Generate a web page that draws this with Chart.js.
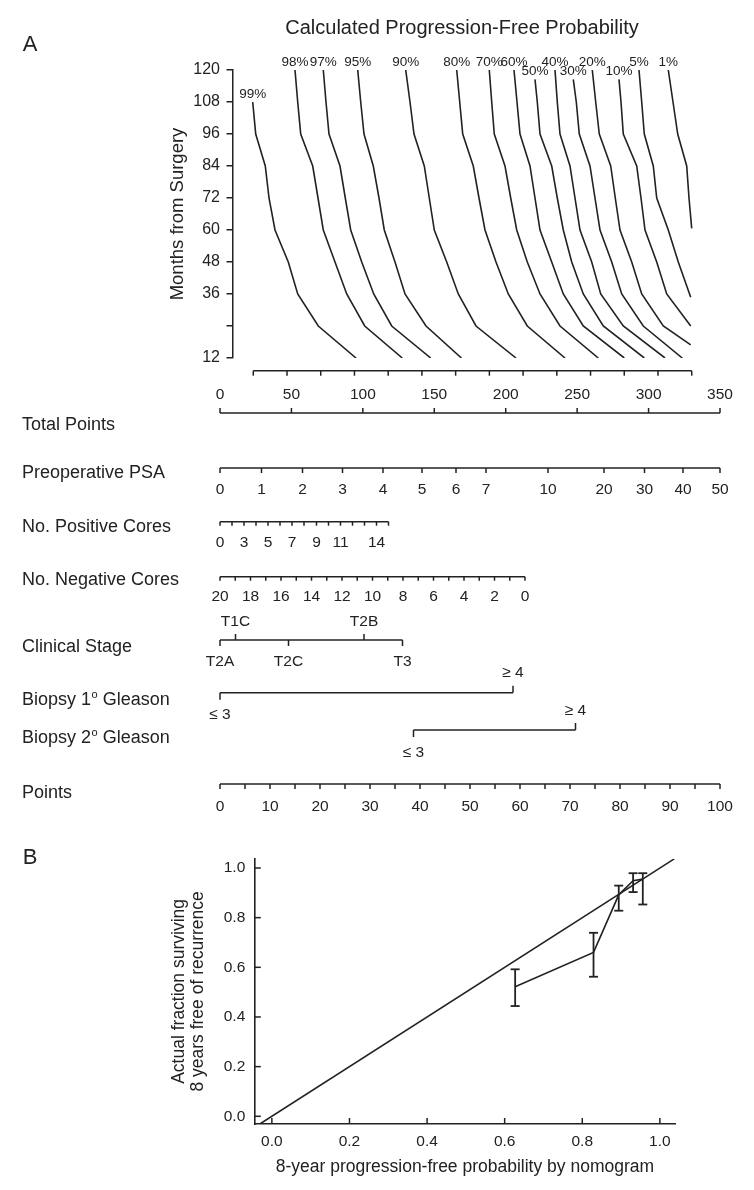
<!DOCTYPE html>
<html>
<head>
<meta charset="utf-8">
<script src="https://cdn.jsdelivr.net/npm/chart.js@4.4.1/dist/chart.umd.min.js"></script>
<style>
  html, body { margin: 0; padding: 0; background: #fff; }
  #wrap { position: relative; width: 754px; height: 1190px; }
  canvas { position: absolute; left: 0; }
  #chartA { top: 0; }
  #chartB { top: 840px; }
</style>
</head>
<body>
<div id="wrap">
  <canvas id="chartA" width="754" height="840"></canvas>
  <canvas id="chartB" width="754" height="350"></canvas>
</div>
<script>
// ---- panel A: probability curves (x = total points, y = months from surgery) ----
const monthTicks = [120, 108, 96, 84, 72, 60, 48, 36, 24, 12];
const curveLabels = ['99%', '98%', '97%', '95%', '90%', '80%', '70%', '60%', '50%', '40%', '30%', '20%', '10%', '5%', '1%'];

const mon99 = [108, 96, 84, 72, 60, 48, 36, 24, 12];
const mon50 = [116.5, 108, 96, 84, 72, 60, 48, 36, 24, 12];
const mon30 = [116.5, 108, 96, 84, 72, 60, 48, 36, 24, 12];
const mon20 = [120, 108, 96, 84, 72, 60, 48, 36, 24, 16.9];
const mon10 = [116.5, 108, 96, 84, 72, 60, 48, 36, 24];
const mon5  = [120, 108, 96, 84, 72, 60, 48, 34.8];
const mon1  = [120, 108, 96, 84, 72, 60.6];

const pts99 = [22.9, 25.0, 31.7, 34.3, 38.5, 47.8, 54.4, 68.8, 95.2];
const pts98 = [52.5, 54.4, 56.5, 64.9, 68.6, 72.3, 80.5, 88.7, 101.3, 127.6];
const pts97 = [72.3, 74.2, 76.3, 84.0, 87.7, 91.5, 99.2, 107.6, 120.2, 147.5];
const pts95 = [96.4, 98.5, 100.8, 107.3, 111.3, 115.0, 122.5, 129.5, 144.2, 169.0];
const pts90 = [130.0, 133.0, 135.8, 143.0, 146.5, 150.0, 158.7, 166.8, 179.2, 207.2];
const pts80 = [165.7, 167.8, 169.9, 177.3, 181.3, 185.5, 193.2, 201.8, 215.1, 241.5];
const pts70 = [188.5, 190.2, 192.0, 199.5, 203.5, 207.7, 215.1, 224.0, 238.0, 264.8];
const pts60 = [205.8, 207.9, 210.0, 217.0, 220.5, 224.0, 232.2, 240.3, 254.3, 283.0];
const pts50 = [220.5, 222.1, 224.0, 232.2, 236.1, 240.3, 246.2, 254.3, 268.3, 297.0];
const pts40 = [234.5, 236.1, 238.0, 245.0, 248.5, 252.0, 260.2, 266.5, 282.3, 311.5];
const pts30 = [247.3, 249.4, 251.5, 259.0, 262.5, 266.0, 274.2, 281.2, 296.3, 323.6];
const pts20 = [260.6, 263.0, 265.5, 273.5, 276.7, 280.0, 288.2, 295.2, 310.3, 329.5];
const pts10 = [279.3, 280.7, 282.3, 291.7, 294.7, 297.5, 305.7, 312.7, 329.5];
const pts5  = [293.3, 295.2, 297.0, 303.3, 305.7, 313.8, 320.8, 329.5];
const pts1  = [313.8, 317.1, 320.4, 326.7, 328.3, 330.2];

const curveMonths = [mon99, monthTicks, monthTicks, monthTicks, monthTicks, monthTicks, monthTicks,
  monthTicks, mon50, monthTicks, mon30, mon20, mon10, mon5, mon1];
const curvePts = [pts99, pts98, pts97, pts95, pts90, pts80, pts70, pts60, pts50, pts40, pts30, pts20, pts10, pts5, pts1];

// ---- nomogram scales (positions in points, 0-100) ----
const totalTicks = [0, 50, 100, 150, 200, 250, 300, 350];
const psaLabels = ['0', '1', '2', '3', '4', '5', '6', '7', '10', '20', '30', '40', '50'];
const psaPoints = [0, 8.3, 16.5, 24.5, 32.6, 40.4, 47.2, 53.2, 65.6, 76.8, 84.9, 92.6, 100];
const posLabels = ['0', '', '3', '', '5', '', '7', '', '9', '', '11', '', '', '14', ''];
const posPoints = [0, 2.4, 4.8, 7.2, 9.6, 12.0, 14.4, 16.8, 19.3, 21.7, 24.1, 26.5, 28.9, 31.3, 33.7];
const negLabels = ['20', '', '18', '', '16', '', '14', '', '12', '', '10', '', '8', '', '6', '', '4', '', '2', '', '0'];
const negPoints = [0, 3.05, 6.1, 9.15, 12.2, 15.25, 18.3, 21.35, 24.4, 27.45, 30.5, 33.55, 36.6, 39.65, 42.7,
  45.75, 48.8, 51.85, 54.9, 57.95, 61.0];
const stageLabels = ['T2A', 'T1C', 'T2C', 'T2B', 'T3'];
const stagePoints = [0, 3.1, 13.7, 28.8, 36.5];
const stageAbove = [false, true, false, true, false];
const gleason1Labels = ['\u2264 3', '\u2265 4'];
const gleason1Points = [0, 58.6];
const gleason2Labels = ['\u2264 3', '\u2265 4'];
const gleason2Points = [38.7, 71.1];
const pointTicks = [0, 5, 10, 15, 20, 25, 30, 35, 40, 45, 50, 55, 60, 65, 70, 75, 80, 85, 90, 95, 100];

// ---- panel B: calibration ----
const probTicks = [0, 0.2, 0.4, 0.6, 0.8, 1.0];
const identityRange = [-0.031, 1.037];
const predicted = [0.627, 0.829, 0.894, 0.931, 0.956];
const observed = [0.522, 0.660, 0.892, 0.949, 0.955];
const ciLow = [0.444, 0.562, 0.828, 0.903, 0.853];
const ciHigh = [0.592, 0.739, 0.929, 0.979, 0.979];

const ink = '#222';
const FAM = '"Liberation Sans", Arial, sans-serif';
Chart.defaults.font.family = FAM;
Chart.defaults.color = ink;

function seg(ctx, x1, y1, x2, y2) {
  ctx.beginPath();
  ctx.moveTo(x1, y1);
  ctx.lineTo(x2, y2);
  ctx.stroke();
}
function txt(ctx, s, x, y, size, align) {
  ctx.font = size + 'px ' + FAM;
  ctx.textAlign = align || 'center';
  ctx.textBaseline = 'middle';
  ctx.fillText(s, x, y);
}
// row label with a small superscript "o" (1º / 2º)
function gleasonLabel(ctx, n, y) {
  ctx.font = '18px ' + FAM;
  ctx.textAlign = 'left';
  ctx.textBaseline = 'middle';
  let x = 22;
  const a = 'Biopsy ' + n;
  ctx.fillText(a, x, y);
  x += ctx.measureText(a).width + 0.5;
  ctx.font = '11px ' + FAM;
  ctx.fillText('o', x, y - 5);
  x += ctx.measureText('o').width;
  ctx.font = '18px ' + FAM;
  ctx.fillText(' Gleason', x, y);
}

const nomogramPlugin = {
  id: 'nomogram',
  afterDraw(chart) {
    const ctx = chart.ctx;
    const xs = chart.scales.x;
    const tpx = v => xs.getPixelForValue(v);        // total points
    const ppx = v => xs.getPixelForValue(v * 3.5);  // points 0-100
    ctx.save();
    ctx.strokeStyle = ink;
    ctx.fillStyle = ink;
    ctx.lineWidth = 1.5;

    txt(ctx, 'A', 30, 45, 22);
    txt(ctx, 'Calculated Progression-Free Probability', 462, 28, 20);

    // curve labels at the top of each line
    curveLabels.forEach((lab, i) => {
      const p = chart.getDatasetMeta(i).data[0];
      txt(ctx, lab, p.x, p.y - 8, 13.5);
    });

    // unlabeled axis under the curves
    let y = 370.7;
    const a0 = 23.3, a1 = 330.2, nT = 14;
    seg(ctx, tpx(a0), y, tpx(a1), y);
    for (let k = 0; k < nT; k++) {
      const x = tpx(a0 + (a1 - a0) * k / (nT - 1));
      seg(ctx, x, y, x, y + 5);
    }

    // Total Points
    y = 413;
    seg(ctx, tpx(0), y, tpx(350), y);
    totalTicks.forEach(v => {
      seg(ctx, tpx(v), y, tpx(v), y - 5);
      txt(ctx, String(v), tpx(v), 395, 15.5);
    });
    txt(ctx, 'Total Points', 22, 425, 18, 'left');

    // Preoperative PSA
    y = 468;
    seg(ctx, ppx(0), y, ppx(100), y);
    psaPoints.forEach((v, i) => {
      seg(ctx, ppx(v), y, ppx(v), y + 5);
      txt(ctx, psaLabels[i], ppx(v), 490, 15.5);
    });
    txt(ctx, 'Preoperative PSA', 22, 473, 18, 'left');

    // No. Positive Cores
    y = 521.7;
    seg(ctx, ppx(posPoints[0]), y, ppx(posPoints[posPoints.length - 1]), y);
    posPoints.forEach((v, i) => {
      seg(ctx, ppx(v), y, ppx(v), y + 4);
      if (posLabels[i]) txt(ctx, posLabels[i], ppx(v), 543, 15.5);
    });
    txt(ctx, 'No. Positive Cores', 22, 527, 18, 'left');

    // No. Negative Cores
    y = 576.7;
    seg(ctx, ppx(negPoints[0]), y, ppx(negPoints[negPoints.length - 1]), y);
    negPoints.forEach((v, i) => {
      seg(ctx, ppx(v), y, ppx(v), y + 4);
      if (negLabels[i]) txt(ctx, negLabels[i], ppx(v), 597, 15.5);
    });
    txt(ctx, 'No. Negative Cores', 22, 580, 18, 'left');

    // Clinical Stage
    y = 640;
    seg(ctx, ppx(stagePoints[0]), y, ppx(stagePoints[stagePoints.length - 1]), y);
    stagePoints.forEach((v, i) => {
      if (stageAbove[i]) {
        seg(ctx, ppx(v), y, ppx(v), y - 6);
        txt(ctx, stageLabels[i], ppx(v), 622, 15.5);
      } else {
        seg(ctx, ppx(v), y, ppx(v), y + 6);
        txt(ctx, stageLabels[i], ppx(v), 662, 15.5);
      }
    });
    txt(ctx, 'Clinical Stage', 22, 647, 18, 'left');

    // Biopsy 1º Gleason
    y = 692.7;
    seg(ctx, ppx(gleason1Points[0]), y, ppx(gleason1Points[1]), y);
    seg(ctx, ppx(gleason1Points[0]), y, ppx(gleason1Points[0]), y + 7);
    seg(ctx, ppx(gleason1Points[1]), y, ppx(gleason1Points[1]), y - 7);
    txt(ctx, gleason1Labels[0], ppx(gleason1Points[0]), 715, 15.5);
    txt(ctx, gleason1Labels[1], ppx(gleason1Points[1]), 673, 15.5);
    gleasonLabel(ctx, '1', 700);

    // Biopsy 2º Gleason
    y = 730;
    seg(ctx, ppx(gleason2Points[0]), y, ppx(gleason2Points[1]), y);
    seg(ctx, ppx(gleason2Points[0]), y, ppx(gleason2Points[0]), y + 7);
    seg(ctx, ppx(gleason2Points[1]), y, ppx(gleason2Points[1]), y - 7);
    txt(ctx, gleason2Labels[0], ppx(gleason2Points[0]), 753, 15.5);
    txt(ctx, gleason2Labels[1], ppx(gleason2Points[1]), 711, 15.5);
    gleasonLabel(ctx, '2', 738);

    // Points
    y = 784;
    seg(ctx, ppx(0), y, ppx(100), y);
    pointTicks.forEach(v => {
      seg(ctx, ppx(v), y, ppx(v), y + 5);
      if (v % 10 === 0) txt(ctx, String(v), ppx(v), 807, 15.5);
    });
    txt(ctx, 'Points', 22, 793, 18, 'left');

    ctx.restore();
  }
};

new Chart(document.getElementById('chartA'), {
  type: 'line',
  data: {
    datasets: curveLabels.map((lab, i) => ({
      label: lab,
      data: curveMonths[i].map((m, j) => ({ x: curvePts[i][j], y: m })),
      borderColor: ink,
      borderWidth: 1.6,
      pointRadius: 0,
      tension: 0
    }))
  },
  options: {
    responsive: false,
    animation: false,
    devicePixelRatio: 1,
    layout: { padding: { left: 0, right: 34, top: 70, bottom: 482 } },
    plugins: { legend: { display: false }, tooltip: { enabled: false } },
    scales: {
      x: { type: 'linear', min: 8.75, max: 350, display: false },
      y: {
        type: 'linear', min: 12, max: 120,
        afterBuildTicks: s => { s.ticks = [...monthTicks].reverse().map(v => ({ value: v })); },
        afterFit: s => { s.width = 232.5; },
        border: { display: true, color: ink, width: 1.5 },
        grid: { display: true, drawOnChartArea: false, drawTicks: true, tickLength: 6, color: ink, lineWidth: 1.5 },
        ticks: { font: { size: 16 }, color: ink, padding: 6.5, callback: v => (v === 24 ? '' : v) },
        title: { display: true, text: 'Months from Surgery', font: { size: 18.5 }, color: ink, padding: { top: 167, bottom: 0 } }
      }
    }
  },
  plugins: [nomogramPlugin]
});

const calibPlugin = {
  id: 'calib',
  afterDraw(chart) {
    const ctx = chart.ctx;
    const xs = chart.scales.x, ys = chart.scales.y;
    const area = chart.chartArea;
    ctx.save();
    ctx.strokeStyle = ink;
    ctx.fillStyle = ink;
    ctx.lineWidth = 1.5;
    txt(ctx, 'B', 30, 18, 22);
    // inward tick marks
    xs.ticks.forEach(t => {
      const x = xs.getPixelForValue(t.value);
      seg(ctx, x, area.bottom, x, area.bottom - 6);
    });
    ys.ticks.forEach(t => {
      const y = ys.getPixelForValue(t.value);
      seg(ctx, area.left, y, area.left + 6, y);
    });
    // error bars
    ctx.lineWidth = 1.8;
    predicted.forEach((p, i) => {
      const x = xs.getPixelForValue(p);
      const y0 = ys.getPixelForValue(ciLow[i]);
      const y1 = ys.getPixelForValue(ciHigh[i]);
      seg(ctx, x, y0, x, y1);
      seg(ctx, x - 4.5, y0, x + 4.5, y0);
      seg(ctx, x - 4.5, y1, x + 4.5, y1);
    });
    ctx.restore();
  }
};

new Chart(document.getElementById('chartB'), {
  type: 'line',
  data: {
    datasets: [
      {
        data: identityRange.map(v => ({ x: v, y: v })),
        borderColor: ink, borderWidth: 1.6, pointRadius: 0, tension: 0
      },
      {
        data: predicted.map((p, i) => ({ x: p, y: observed[i] })),
        borderColor: ink, borderWidth: 1.6, pointRadius: 0, tension: 0
      }
    ]
  },
  options: {
    responsive: false,
    animation: false,
    devicePixelRatio: 1,
    layout: { padding: { left: 0, right: 79, top: 12.7, bottom: 0 } },
    plugins: { legend: { display: false }, tooltip: { enabled: false } },
    scales: {
      x: {
        type: 'linear', min: -0.044, max: 1.039,
        afterBuildTicks: s => { s.ticks = probTicks.map(v => ({ value: v })); },
        afterFit: s => { s.height = 66; },
        border: { display: true, color: ink, width: 1.6 },
        grid: { display: false, drawTicks: false },
        ticks: { font: { size: 15.5 }, color: ink, padding: 8, callback: v => v.toFixed(1) },
        title: { display: true, text: '8-year progression-free probability by nomogram', font: { size: 17.5 }, color: ink, padding: { top: 0, bottom: 12.5 } }
      },
      y: {
        type: 'linear', min: -0.031, max: 1.037,
        afterBuildTicks: s => { s.ticks = probTicks.map(v => ({ value: v })); },
        afterFit: s => { s.width = 254.8; },
        border: { display: true, color: ink, width: 1.6 },
        grid: { display: false, drawTicks: false },
        ticks: { font: { size: 15.5 }, color: ink, padding: 9.5, callback: v => v.toFixed(1) },
        title: {
          display: true, text: ['Actual fraction surviving', '8 years free of recurrence'],
          font: { size: 17.5, lineHeight: 1.13 }, color: ink, padding: { top: 168.8, bottom: 0 }
        }
      }
    }
  },
  plugins: [calibPlugin]
});
</script>
</body>
</html>
